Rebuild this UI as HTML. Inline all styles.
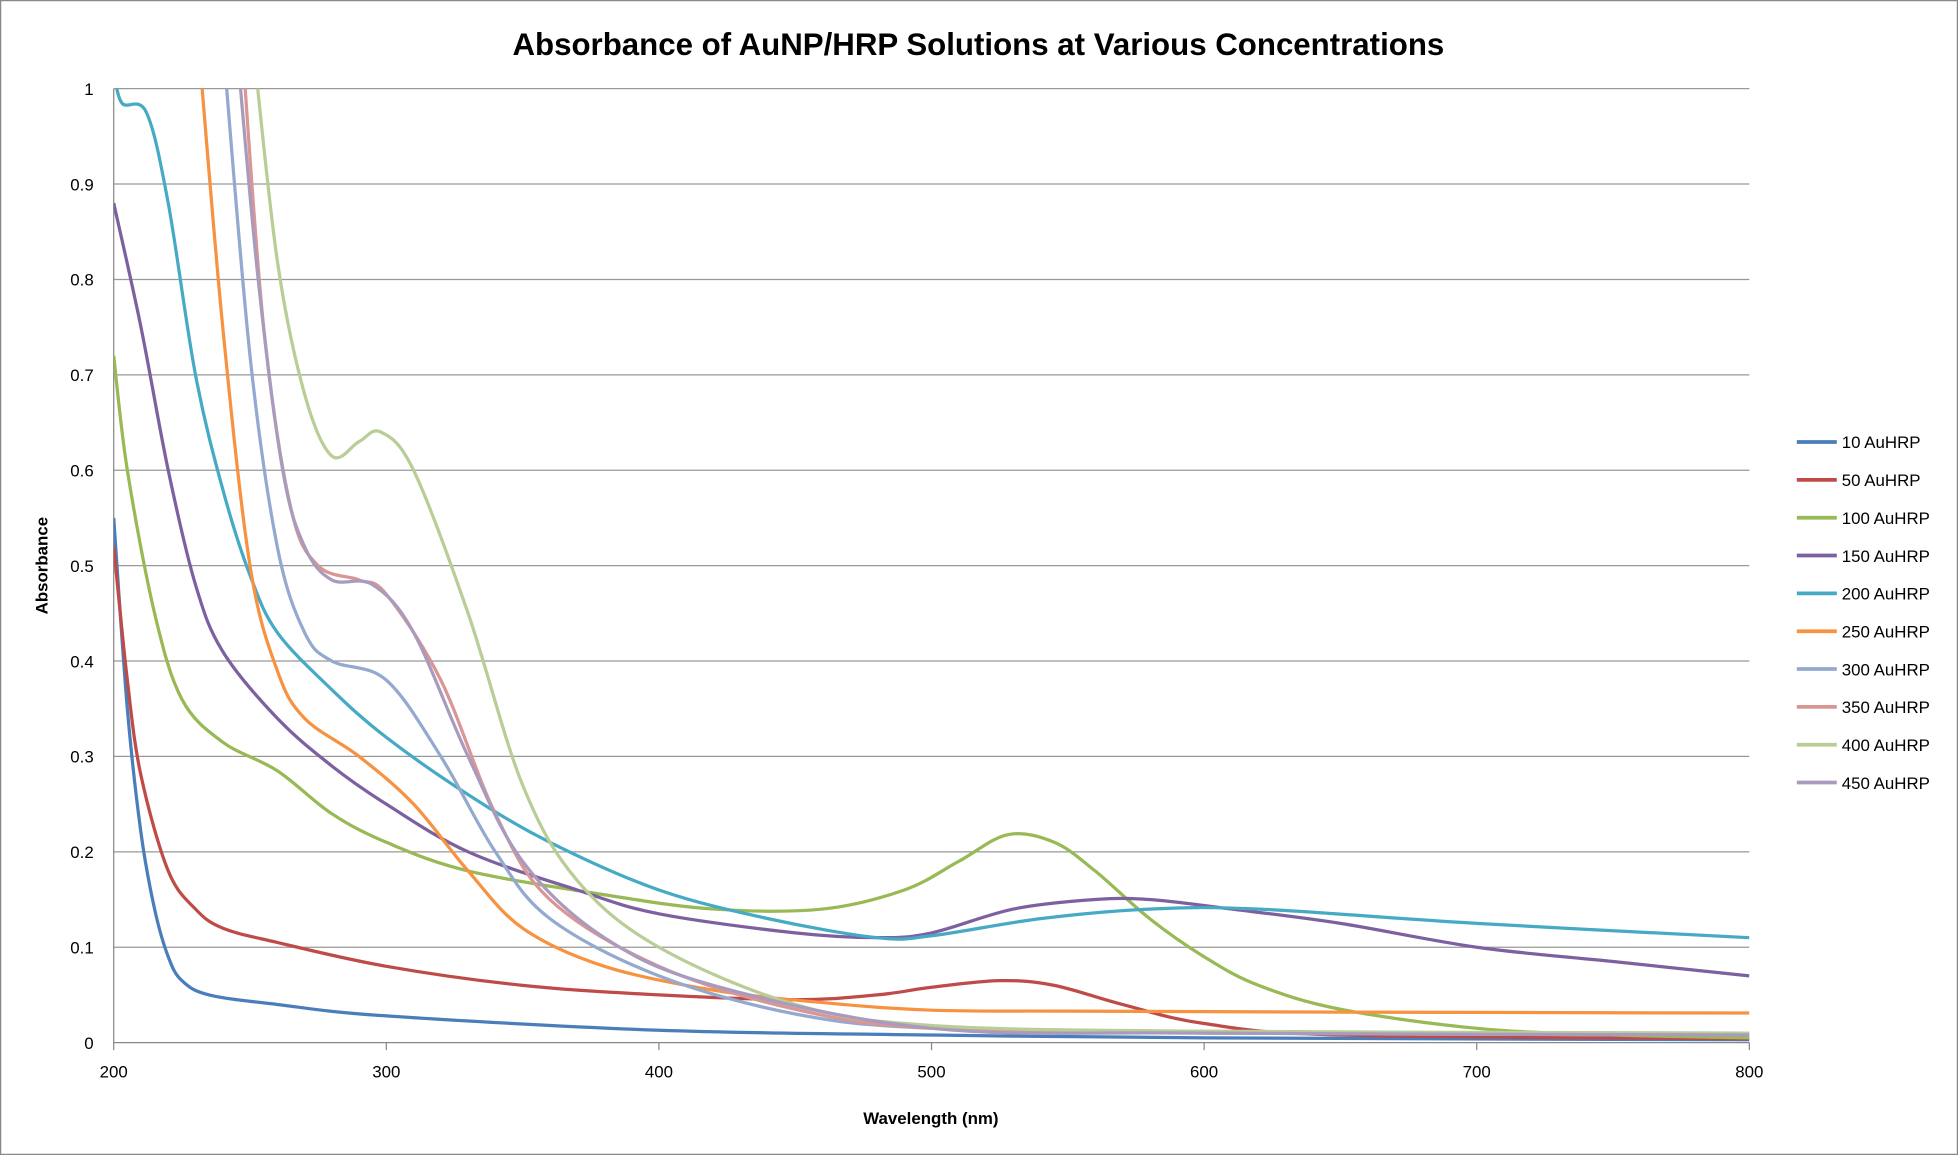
<!DOCTYPE html>
<html><head><meta charset="utf-8"><style>
html,body{margin:0;padding:0;background:#fff;}
svg{display:block;}
text{font-family:"Liberation Sans",sans-serif;}
</style></head><body>
<svg id="s" width="1958" height="1155" viewBox="0 0 1567 925" preserveAspectRatio="none">
<rect x="0.5" y="0.5" width="1566" height="924" fill="#fff" stroke="#888"/>
<text x="783" y="44" text-anchor="middle" font-size="25" font-weight="bold">Absorbance of AuNP/HRP Solutions at Various Concentrations</text>
<g id="grid" stroke="#888" stroke-width="1"></g>
<g id="ticks" font-size="13.5" fill="#000"></g>
<text x="745" y="900" text-anchor="middle" font-size="13.5" font-weight="bold">Wavelength (nm)</text>
<text transform="translate(38,453) rotate(-90)" text-anchor="middle" font-size="13.5" font-weight="bold">Absorbance</text>
<clipPath id="cp"><rect x="91" y="71" width="1309" height="764"/></clipPath>
<g id="series" clip-path="url(#cp)" fill="none" stroke-width="2.6" stroke-linejoin="round"></g>
<g id="legend" font-size="13.5"></g>
</svg>
<script>
var NS="http://www.w3.org/2000/svg";
function X(w){return 91+(w-200)*1309/600;}
function Y(a){return 835-a*764;}
function el(t,a,p,txt){var e=document.createElementNS(NS,t);for(var k in a)e.setAttribute(k,a[k]);if(txt!=null)e.textContent=txt;p.appendChild(e);return e;}
var g=document.getElementById('grid'),tk=document.getElementById('ticks');
for(var i=0;i<=10;i++){var y=Y(i/10);el('line',{x1:91,x2:1400,y1:y,y2:y,stroke:i==0?'#888':'#999'},g);
el('text',{x:75,y:y+5,'text-anchor':'end'},tk,i==0?'0':i==10?'1':(i/10).toString());}
el('line',{x1:91,x2:91,y1:71,y2:835},g);
for(var w=200;w<=800;w+=100){el('line',{x1:X(w),x2:X(w),y1:835,y2:841},g);el('text',{x:X(w),y:863,'text-anchor':'middle'},tk,w);}
var S=[
["10 AuHRP","#4a7ebb",[[200,0.55],[205,0.35],[210,0.22],[215,0.14],[220,0.09],[225,0.065],[235,0.05],[260,0.04],[300,0.028],[400,0.013],[500,0.008],[600,0.005],[800,0.003]]],
["50 AuHRP","#be4b48",[[200,0.52],[205,0.38],[210,0.28],[220,0.18],[230,0.14],[240,0.12],[260,0.105],[300,0.08],[350,0.06],[400,0.05],[450,0.045],[480,0.05],[500,0.058],[525,0.065],[545,0.06],[570,0.04],[600,0.02],[650,0.008],[800,0.004]]],
["100 AuHRP","#98b954",[[200,0.72],[205,0.6],[215,0.45],[225,0.36],[240,0.315],[260,0.285],[280,0.24],[300,0.21],[330,0.18],[380,0.155],[420,0.14],[460,0.14],[490,0.16],[510,0.19],[528,0.218],[545,0.21],[560,0.18],[580,0.13],[600,0.09],[620,0.06],[650,0.035],[700,0.015],[750,0.008],[800,0.005]]],
["150 AuHRP","#7d60a0",[[200,0.88],[210,0.75],[220,0.6],[230,0.48],[240,0.41],[260,0.34],[280,0.29],[300,0.25],[330,0.2],[370,0.16],[400,0.135],[450,0.115],[480,0.11],[500,0.115],[530,0.14],[560,0.15],[580,0.15],[610,0.14],[650,0.125],[700,0.1],[750,0.085],[800,0.07]]],
["200 AuHRP","#46aac5",[[200,1.02],[203,0.985],[212,0.975],[220,0.88],[230,0.7],[240,0.58],[250,0.49],[260,0.43],[280,0.37],[300,0.32],[330,0.26],[360,0.21],[400,0.16],[440,0.13],[480,0.11],[500,0.112],[540,0.13],[580,0.14],[620,0.14],[700,0.125],[800,0.11]]],
["250 AuHRP","#f69240",[[231,1.05],[240,0.75],[250,0.5],[260,0.39],[270,0.34],[290,0.3],[310,0.25],[330,0.18],[350,0.12],[380,0.08],[420,0.055],[460,0.042],[500,0.034],[550,0.033],[650,0.032],[800,0.031]]],
["300 AuHRP","#93a9cf",[[240,1.05],[250,0.72],[260,0.52],[270,0.43],[280,0.4],[300,0.38],[320,0.3],[340,0.2],[360,0.13],[400,0.07],[450,0.03],[500,0.015],[600,0.01],[800,0.008]]],
["350 AuHRP","#d99694",[[247,1.05],[255,0.75],[265,0.56],[275,0.5],[290,0.485],[300,0.47],[320,0.38],[340,0.24],[360,0.15],[400,0.08],[450,0.035],[500,0.015],[600,0.011],[800,0.01]]],
["400 AuHRP","#b9cd96",[[251,1.05],[260,0.82],[270,0.68],[280,0.615],[290,0.63],[298,0.64],[310,0.6],[330,0.45],[350,0.27],[370,0.17],[400,0.1],[450,0.04],[500,0.018],[600,0.012],[800,0.01]]],
["450 AuHRP","#a99bbd",[[245,1.05],[253,0.8],[262,0.6],[270,0.52],[280,0.485],[295,0.48],[310,0.43],[330,0.3],[350,0.19],[380,0.11],[420,0.06],[500,0.015],[600,0.01],[800,0.008]]]
];
var sg=document.getElementById('series'),lg=document.getElementById('legend');
S.forEach(function(s,idx){
 var p=s[2].map(function(q){return [X(q[0]),Y(q[1])];});
 var d="M"+p[0][0]+","+p[0][1];
 for(var i=0;i<p.length-1;i++){var p0=p[i-1]||p[i],p1=p[i],p2=p[i+1],p3=p[i+2]||p2;
  var c1=[p1[0]+(p2[0]-p0[0])/6,p1[1]+(p2[1]-p0[1])/6],c2=[p2[0]-(p3[0]-p1[0])/6,p2[1]-(p3[1]-p1[1])/6];
  d+=" C"+c1+" "+c2+" "+p2;}
 el('path',{d:d,stroke:s[1]},sg);
 var ly=354+idx*30.3;
 el('line',{x1:1438,x2:1470,y1:ly,y2:ly,stroke:s[1],'stroke-width':3},lg);
 el('text',{x:1474,y:ly+5},lg,s[0]);
});
</script>
</body></html>
